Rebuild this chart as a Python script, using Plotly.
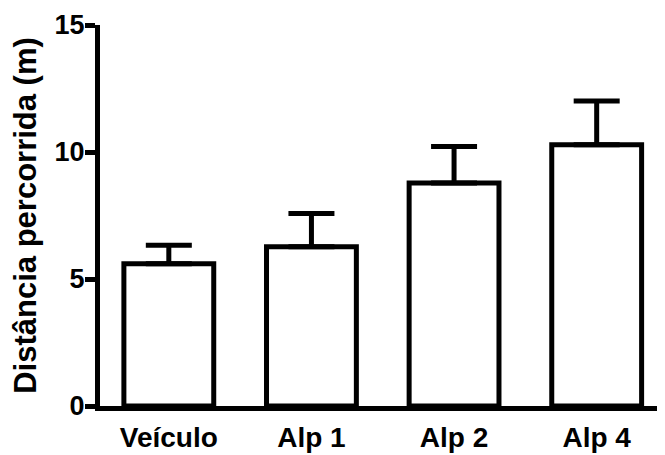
import plotly.graph_objects as go

categories = ["Veículo", "Alp 1", "Alp 2", "Alp 4"]
means = [5.60, 6.27, 8.78, 10.29]
errors_up = [0.73, 1.31, 1.44, 1.72]
y_ticks = [0, 5, 10, 15]

x_pos = list(range(len(categories)))
FONT = "Liberation Sans, Arial, sans-serif"

fig = go.Figure()
fig.add_trace(go.Bar(
    x=x_pos,
    y=means,
    width=0.63,
    marker=dict(color="white", line=dict(color="black", width=5)),
    error_y=dict(type="data", array=errors_up, arrayminus=[0] * len(means),
                 symmetric=False, color="black", thickness=5, width=23),
    showlegend=False,
))

# page body has an 8px margin, so the figure is sized/positioned to compensate
fig.update_layout(
    width=657, height=447,
    margin=dict(l=92, r=2, t=17, b=49),
    paper_bgcolor="white", plot_bgcolor="white",
    font=dict(family=FONT, color="black"),
    xaxis=dict(
        range=[-0.4825, 3.465],
        tickmode="array", tickvals=x_pos, ticktext=categories,
        showline=True, linecolor="black", linewidth=5,
        ticks="", showgrid=False, zeroline=False,
        ticklabelstandoff=2,
        tickfont=dict(size=28, family=FONT, weight="bold"),
    ),
    yaxis=dict(
        range=[0, 15],
        tickmode="array", tickvals=y_ticks,
        showline=True, linecolor="black", linewidth=5,
        ticks="outside", ticklen=10, tickwidth=5, tickcolor="black",
        showgrid=False, zeroline=False,
        ticklabelstandoff=-5,
        tickfont=dict(size=27, family=FONT, weight="bold"),
        title=dict(text="Distância percorrida (m)", standoff=10,
                   font=dict(size=31, family=FONT, weight="bold")),
    ),
)

fig.write_html("out.html")
